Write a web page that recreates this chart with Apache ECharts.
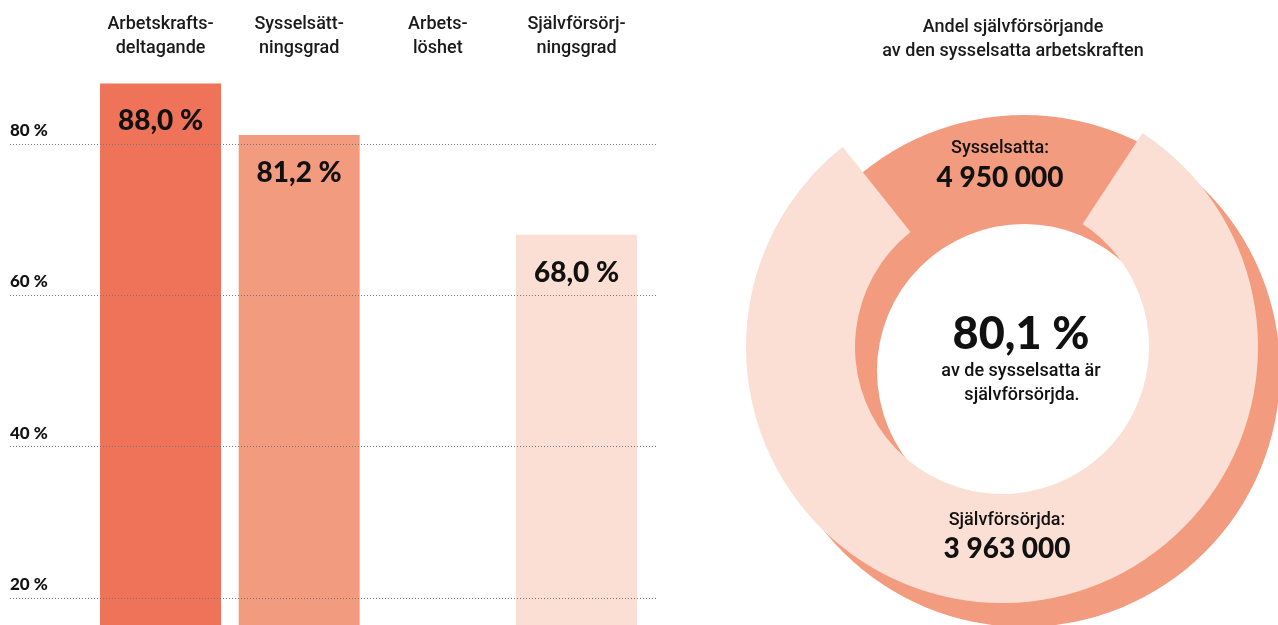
<!DOCTYPE html>
<html>
<head>
<meta charset="utf-8">
<script src="https://cdn.jsdelivr.net/npm/echarts@6/dist/echarts.min.js"></script>
<style>
  html, body { margin: 0; padding: 0; background: #fff; }
  #chart { width: 1278px; height: 625px; }
</style>
</head>
<body>
<div id="chart"></div>
<script>
// bar chart data
const categories = ['Arbetskrafts-\ndeltagande', 'Sysselsätt-\nningsgrad', 'Arbets-\nlöshet', 'Självförsörj-\nningsgrad'];
const rates = [88.0, 81.2, null, 68.0];
const barColors = ['#EE7358', '#F39B7F', '#F39B7F', '#FBDFD4'];
const yTicks = [20, 40, 60, 80];

// donut data
const employed = 4950000;
const selfSupporting = 3963000;

const chart = echarts.init(document.getElementById('chart'));

// pixel scale of the bar axis: 20 % at y=598, 80 % at y=144
const k = (598 - 144) / 60;
const H = 625;
const gridTop = 64;
const yMin = 20 - (H - 598) / k;
const yMax = 80 + (144 - gridTop) / k;

const pct = v => v.toFixed(1).replace('.', ',') + ' %';
const num = v => String(v).replace(/\B(?=(\d{3})+(?!\d))/g, ' ');

const textFont = {fontFamily: 'Roboto', fontSize: 18, fontWeight: 500, color: '#1a1a1a'};

const option = {
    animation: false,
    title: {
        text: 'Andel självförsörjande\nav den sysselsatta arbetskraften',
        left: 1008,
        top: 10,
        textAlign: 'center',
        textStyle: Object.assign({lineHeight: 24}, textFont)
    },
    grid: [
        // grid for the dotted lines and tick labels
        {left: 10, right: 1278 - 657, top: gridTop, bottom: 0},
        // grid for the bars
        {left: 91.2, right: 1278 - 645.8, top: gridTop, bottom: 0}
    ],
    xAxis: [
        {type: 'value', gridIndex: 0, min: 0, max: 1, show: false},
        {
            type: 'category',
            gridIndex: 1,
            position: 'top',
            data: categories,
            axisLine: {show: false},
            axisTick: {show: false},
            axisLabel: Object.assign({interval: 0, margin: 4, lineHeight: 24}, textFont)
        }
    ],
    yAxis: [
        {type: 'value', gridIndex: 0, min: yMin, max: yMax, show: false, splitLine: {show: false}},
        {type: 'value', gridIndex: 1, min: yMin, max: yMax, show: false, splitLine: {show: false}}
    ],
    series: [
        {
            // dotted reference lines with their labels
            type: 'line',
            xAxisIndex: 0,
            yAxisIndex: 0,
            z: 1,
            data: [],
            silent: true,
            markLine: {
                silent: true,
                symbol: ['none', 'none'],
                lineStyle: {color: '#777', type: [1, 2], width: 1},
                label: {
                    position: 'insideStartTop',
                    distance: [0, 5],
                    fontFamily: 'Lato', fontSize: 17, fontWeight: 900, color: '#111',
                    formatter: p => p.value + ' %'
                },
                emphasis: {disabled: true},
                data: yTicks.map(v => ({yAxis: v}))
            }
        },
        {
            type: 'bar',
            xAxisIndex: 1,
            yAxisIndex: 1,
            z: 2,
            barWidth: 121,
            data: rates.map((v, i) => ({value: v, itemStyle: {color: barColors[i]}})),
            label: {
                show: true,
                position: 'insideTop',
                distance: 24,
                fontFamily: 'Lato', fontSize: 28, fontWeight: 900, color: '#111',
                formatter: p => pct(p.value)
            },
            emphasis: {disabled: true},
            silent: true
        },
        {
            // darker ring behind, offset down-right
            type: 'pie',
            center: [1024, 371],
            radius: [147, 256],
            z: 1,
            silent: true,
            label: {show: false},
            labelLine: {show: false},
            emphasis: {disabled: true},
            data: [{value: employed, name: 'Sysselsatta', itemStyle: {color: '#F39B7F'}}]
        },
        {
            type: 'pie',
            center: [1002, 347],
            radius: [147, 256],
            startAngle: 128.5,
            clockwise: true,
            z: 3,
            silent: true,
            label: {show: false},
            labelLine: {show: false},
            emphasis: {disabled: true},
            data: [
                {value: employed - selfSupporting, name: 'gap', itemStyle: {color: 'rgba(0,0,0,0)'}},
                {value: selfSupporting, name: 'Självförsörjda', itemStyle: {color: '#FBDFD4'}}
            ]
        }
    ],
    graphic: [
        {type: 'text', z: 10, style: {text: 'Sysselsatta:', x: 1000, y: 148, align: 'center', verticalAlign: 'middle', font: '500 18px Roboto', fill: '#111'}},
        {type: 'text', z: 10, style: {text: num(employed), x: 1000, y: 178, align: 'center', verticalAlign: 'middle', font: '900 28px Lato', fill: '#111'}},
        {type: 'text', z: 10, style: {text: pct(selfSupporting / employed * 100), x: 1021, y: 334, align: 'center', verticalAlign: 'middle', font: '900 45px Lato', fill: '#111'}},
        {type: 'text', z: 10, style: {text: 'av de sysselsatta är', x: 1021, y: 371, align: 'center', verticalAlign: 'middle', font: '500 18px Roboto', fill: '#111'}},
        {type: 'text', z: 10, style: {text: 'självförsörjda.', x: 1022, y: 395, align: 'center', verticalAlign: 'middle', font: '500 18px Roboto', fill: '#111'}},
        {type: 'text', z: 10, style: {text: 'Självförsörjda:', x: 1007, y: 520, align: 'center', verticalAlign: 'middle', font: '500 18px Roboto', fill: '#111'}},
        {type: 'text', z: 10, style: {text: num(selfSupporting), x: 1007, y: 549, align: 'center', verticalAlign: 'middle', font: '900 28px Lato', fill: '#111'}}
    ]
};

chart.setOption(option);
window.addEventListener('resize', () => chart.resize());
</script>
</body>
</html>
